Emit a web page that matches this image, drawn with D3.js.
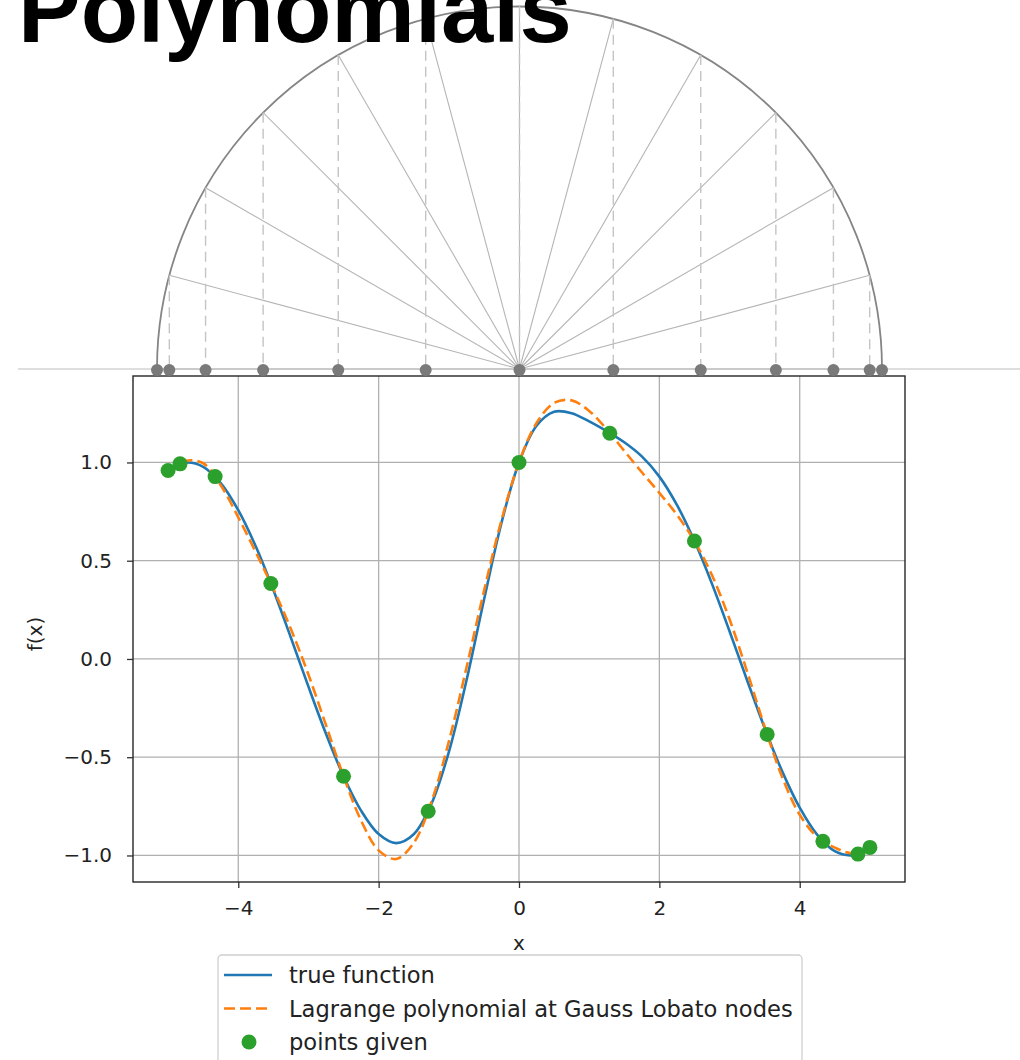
<!DOCTYPE html>
<html>
<head>
<meta charset="utf-8">
<script src="https://cdn.jsdelivr.net/npm/d3@7"></script>
<style>
  html, body { margin: 0; padding: 0; background: #ffffff; }
  svg { display: block; }
</style>
</head>
<body>
<svg id="chart" width="1020" height="1060"></svg>
<script>
// ---------------- data ----------------
const xGrid = [-5, -4.75, -4.5, -4.25, -4, -3.75, -3.5, -3.25, -3, -2.75, -2.5, -2.25, -2, -1.75, -1.5, -1.25, -1, -0.75, -0.5, -0.25,
  0, 0.25, 0.5, 0.75, 1, 1.25, 1.5, 1.75, 2, 2.25, 2.5, 2.75, 3, 3.25, 3.5, 3.75, 4, 4.25, 4.5, 4.75, 5];
const trueValues = [0.959, 0.999, 0.978, 0.895, 0.757, 0.572, 0.351, 0.108, -0.141, -0.381, -0.597, -0.772, -0.891, -0.937, -0.892, -0.739, -0.474, -0.112, 0.299, 0.692,
  1.000, 1.187, 1.258, 1.251, 1.209, 1.159, 1.103, 1.031, 0.928, 0.784, 0.600, 0.382, 0.141, -0.108, -0.351, -0.572, -0.757, -0.895, -0.978, -0.999, -0.959];
const lagrangeValues = [0.959, 1.009, 0.996, 0.884, 0.721, 0.543, 0.357, 0.152, -0.080, -0.337, -0.597, -0.822, -0.974, -1.018, -0.936, -0.729, -0.421, -0.047, 0.344, 0.706,
  1.000, 1.201, 1.303, 1.316, 1.262, 1.169, 1.059, 0.950, 0.845, 0.734, 0.600, 0.426, 0.202, -0.064, -0.345, -0.601, -0.793, -0.906, -0.960, -0.989, -0.959];
const nodeX = [-5, -4.830, -4.330, -3.536, -2.5, -1.294, 0, 1.294, 2.5, 3.536, 4.330, 4.830, 5];
const nodeY = [0.959, 0.993, 0.928, 0.384, -0.597, -0.775, 1.000, 1.149, 0.600, -0.384, -0.928, -0.993, -0.959];
const xTicks = [-4, -2, 0, 2, 4];
const yTicks = [-1.0, -0.5, 0.0, 0.5, 1.0];
const legendLabels = ["true function", "Lagrange polynomial at Gauss Lobato nodes", "points given"];
const titleText = "Polynomials";
const xLabel = "x";
const yLabel = "f(x)";

// ---------------- drawing ----------------
const svg = d3.select("#chart");
const C_BLUE = "#1f77b4", C_ORANGE = "#ff7f0e", C_GREEN = "#2ca02c";
const FONT = "'DejaVu Sans', sans-serif";

// semicircle diagram of the Gauss-Lobato nodes
const axisY = 369;
const sx = d3.scaleLinear().domain([-5, 5]).range([157, 882]);
const cx = sx(0);
const R = (sx(5) - sx(-5)) / 2;
const semi = svg.append("g");

semi.append("line")
  .attr("x1", 18).attr("x2", 1020).attr("y1", axisY).attr("y2", axisY)
  .attr("stroke", "#bdbdbd").attr("stroke-width", 1.2);

const arcPath = d3.path();
arcPath.arc(cx, axisY, R, Math.PI, 2 * Math.PI, false);
semi.append("path").attr("d", arcPath.toString())
  .attr("fill", "none").attr("stroke", "#858585").attr("stroke-width", 1.8);

const pts = nodeX.map(n => {
  const px = sx(n);
  const dx = px - cx;
  const py = axisY - Math.sqrt(Math.max(R * R - dx * dx, 0));
  return { px, py };
});

semi.selectAll("line.radial").data(pts).join("line")
  .attr("class", "radial")
  .attr("x1", cx).attr("y1", axisY)
  .attr("x2", d => d.px).attr("y2", d => d.py)
  .attr("stroke", "#b5b5b5").attr("stroke-width", 1.1);

semi.selectAll("line.drop").data(pts).join("line")
  .attr("class", "drop")
  .attr("x1", d => d.px).attr("y1", d => d.py)
  .attr("x2", d => d.px).attr("y2", axisY)
  .attr("stroke", "#c4c4c4").attr("stroke-width", 1.4)
  .attr("stroke-dasharray", "10,6");

// plot axes
const pLeft = 133, pRight = 905, pTop = 376, pBottom = 882;
const x = d3.scaleLinear().domain([-5.5, 5.5]).range([pLeft, pRight]);
const y = d3.scaleLinear().domain([-1.135, 1.44]).range([pBottom, pTop]);

const plot = svg.append("g");
plot.append("rect").attr("x", pLeft).attr("y", pTop).attr("width", pRight - pLeft).attr("height", pBottom - pTop)
  .attr("fill", "#ffffff");

// grid
plot.selectAll("line.gx").data(xTicks).join("line").attr("class", "gx")
  .attr("x1", d => x(d)).attr("x2", d => x(d)).attr("y1", pTop).attr("y2", pBottom)
  .attr("stroke", "#b0b0b0").attr("stroke-width", 1.3);
plot.selectAll("line.gy").data(yTicks).join("line").attr("class", "gy")
  .attr("y1", d => y(d)).attr("y2", d => y(d)).attr("x1", pLeft).attr("x2", pRight)
  .attr("stroke", "#b0b0b0").attr("stroke-width", 1.3);

const fmtMinus = s => s.replace("-", "\u2212");
const xAxis = d3.axisBottom(x).tickValues(xTicks).tickSize(6).tickPadding(13)
  .tickFormat(d => fmtMinus(d3.format("d")(d)));
const yAxis = d3.axisLeft(y).tickValues(yTicks).tickSize(6).tickPadding(15)
  .tickFormat(d => fmtMinus(d3.format(".1f")(d)));

const gx = plot.append("g").attr("transform", `translate(0,${pBottom})`).call(xAxis);
const gy = plot.append("g").attr("transform", `translate(${pLeft},0)`).call(yAxis);
[gx, gy].forEach(g => {
  g.select(".domain").remove();
  g.selectAll(".tick line").attr("stroke", "#333").attr("stroke-width", 1.3);
  g.selectAll(".tick text").attr("fill", "#222").style("font-family", FONT).style("font-size", "20px");
});

// lines
const lineGen = d3.line().x(d => x(d[0])).y(d => y(d[1])).curve(d3.curveCatmullRom.alpha(0.5));
plot.append("path").datum(xGrid.map((v, i) => [v, trueValues[i]]))
  .attr("d", lineGen).attr("fill", "none").attr("stroke", C_BLUE).attr("stroke-width", 2.6);
plot.append("path").datum(xGrid.map((v, i) => [v, lagrangeValues[i]]))
  .attr("d", lineGen).attr("fill", "none").attr("stroke", C_ORANGE).attr("stroke-width", 2.6)
  .attr("stroke-dasharray", "11,5");

plot.selectAll("circle.pt").data(nodeX.map((v, i) => [v, nodeY[i]])).join("circle")
  .attr("class", "pt")
  .attr("cx", d => x(d[0])).attr("cy", d => y(d[1])).attr("r", 7.5)
  .attr("fill", C_GREEN);

// frame
plot.append("rect").attr("x", pLeft).attr("y", pTop).attr("width", pRight - pLeft).attr("height", pBottom - pTop)
  .attr("fill", "none").attr("stroke", "#262626").attr("stroke-width", 1.4);

// node dots on the semicircle baseline (drawn above the plot frame)
semi.raise();
semi.selectAll("circle.node").data(pts).join("circle")
  .attr("class", "node")
  .attr("cx", d => d.px).attr("cy", axisY + 1).attr("r", 6)
  .attr("fill", "#7a7a7a");

// axis labels
svg.append("text").attr("x", x(0)).attr("y", 950).attr("text-anchor", "middle")
  .style("font-family", FONT).style("font-size", "20px").attr("fill", "#222").text(xLabel);
svg.append("text").attr("transform", `translate(42,634) rotate(-90)`).attr("text-anchor", "middle")
  .style("font-family", FONT).style("font-size", "20px").attr("fill", "#222").text(yLabel);

// legend
const lg = svg.append("g");
lg.append("rect").attr("x", 218).attr("y", 955).attr("width", 584).attr("height", 120).attr("rx", 4)
  .attr("fill", "#ffffff").attr("fill-opacity", 0.8).attr("stroke", "#d0d0d0").attr("stroke-width", 1.3);
const rowsY = [975, 1008.5, 1042];
lg.append("line").attr("x1", 224).attr("x2", 272).attr("y1", rowsY[0]).attr("y2", rowsY[0])
  .attr("stroke", C_BLUE).attr("stroke-width", 2.6);
lg.append("line").attr("x1", 224).attr("x2", 272).attr("y1", rowsY[1]).attr("y2", rowsY[1])
  .attr("stroke", C_ORANGE).attr("stroke-width", 2.6).attr("stroke-dasharray", "11,5");
lg.append("circle").attr("cx", 249).attr("cy", rowsY[2]).attr("r", 7.5).attr("fill", C_GREEN);
lg.selectAll("text.lt").data(legendLabels).join("text").attr("class", "lt")
  .attr("x", 289).attr("y", (d, i) => rowsY[i]).attr("dy", "0.36em")
  .style("font-family", FONT).style("font-size", "22.6px").attr("fill", "#222")
  .text(d => d);

// title
svg.append("text").attr("x", 18).attr("y", 42)
  .style("font-family", "'Liberation Sans', Arial, sans-serif").style("font-weight", "bold")
  .style("font-size", "94px").attr("fill", "#000000").text(titleText);
</script>
</body>
</html>
